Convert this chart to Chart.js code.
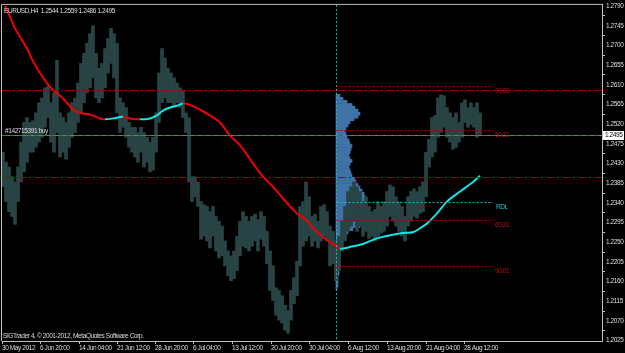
<!DOCTYPE html>
<html><head><meta charset="utf-8">
<script src="https://cdn.jsdelivr.net/npm/chart.js@4.4.1/dist/chart.umd.min.js"></script>
<style>html,body{margin:0;padding:0;background:#000;overflow:hidden}#wrap{width:625px;height:353px}</style>
</head><body><div id="wrap"><canvas id="c" width="625" height="353"></canvas></div>
<script>
// ---------- data ----------
const xTickBars = [0, 38, 77, 115, 153, 191, 230, 269, 307, 346, 385, 424, 462];
const xTickLabels = ["30 May 2012","6 Jun 20:00","14 Jun 04:00","21 Jun 12:00","28 Jun 20:00","6 Jul 04:00","13 Jul 12:00","20 Jul 20:00","30 Jul 04:00","6 Aug 12:00","13 Aug 20:00","21 Aug 04:00","28 Aug 12:00"];
const yTicks = [1.2025,1.2070,1.2115,1.2160,1.2205,1.2250,1.2295,1.2340,1.2385,1.2430,1.2475,1.2520,1.2565,1.2610,1.2655,1.2700,1.2745,1.2790];

const firstBar = 1, barsPerSample = 3;
const highs = [1.2456,1.2433,1.2422,1.2400,1.2388,1.2422,1.2479,1.2524,1.2535,1.2524,
1.2528,1.2546,1.2569,1.2580,1.2603,1.2607,1.2569,1.2592,1.2666,1.2546,
1.2535,1.2524,1.2546,1.2569,1.2580,1.2614,1.2659,1.2682,1.2705,1.2727,
1.2745,1.2682,1.2648,1.2659,1.2693,1.2716,1.2739,1.2727,1.2705,1.2580,
1.2569,1.2558,1.2524,1.2513,1.2513,1.2501,1.2513,1.2501,1.2490,1.2479,
1.2490,1.2546,1.2637,1.2693,1.2671,1.2648,1.2637,1.2626,1.2614,1.2603,
1.2596,1.2546,1.2535,1.2400,1.2400,1.2388,1.2343,1.2336,1.2332,1.2320,
1.2332,1.2309,1.2298,1.2287,1.2253,1.2230,1.2219,1.2230,1.2264,1.2298,
1.2320,1.2309,1.2298,1.2309,1.2314,1.2302,1.2320,1.2309,1.2275,1.2230,
1.2196,1.2146,1.2140,1.2128,1.2106,1.2094,1.2140,1.2169,1.2207,1.2332,
1.2343,1.2388,1.2354,1.2309,1.2314,1.2298,1.2332,1.2336,1.2320,1.2287,
1.2275,1.2253,1.2264,1.2298,1.2332,1.2366,1.2377,1.2388,1.2377,1.2366,
1.2343,1.2354,1.2332,1.2320,1.2325,1.2343,1.2332,1.2343,1.2366,1.2381,
1.2377,1.2354,1.2343,1.2332,1.2309,1.2354,1.2366,1.2372,1.2366,1.2377,
1.2388,1.2456,1.2485,1.2535,1.2540,1.2580,1.2587,1.2585,1.2558,1.2546,
1.2535,1.2546,1.2524,1.2569,1.2576,1.2558,1.2569,1.2558,1.2569,1.2546];
const lows = [1.2377,1.2343,1.2320,1.2309,1.2291,1.2343,1.2388,1.2411,1.2433,1.2456,
1.2456,1.2467,1.2479,1.2490,1.2513,1.2535,1.2479,1.2456,1.2501,1.2445,
1.2456,1.2440,1.2467,1.2490,1.2501,1.2524,1.2546,1.2569,1.2592,1.2603,
1.2626,1.2580,1.2569,1.2580,1.2603,1.2637,1.2659,1.2626,1.2546,1.2501,
1.2513,1.2490,1.2467,1.2456,1.2445,1.2433,1.2456,1.2422,1.2433,1.2411,
1.2415,1.2456,1.2524,1.2569,1.2580,1.2569,1.2569,1.2558,1.2569,1.2558,
1.2535,1.2501,1.2388,1.2343,1.2354,1.2332,1.2257,1.2264,1.2253,1.2237,
1.2264,1.2230,1.2214,1.2219,1.2196,1.2174,1.2162,1.2167,1.2185,1.2219,
1.2241,1.2237,1.2230,1.2241,1.2253,1.2230,1.2257,1.2241,1.2201,1.2140,
1.2117,1.2083,1.2072,1.2065,1.2049,1.2042,1.2072,1.2110,1.2128,1.2196,
1.2241,1.2253,1.2264,1.2241,1.2253,1.2237,1.2253,1.2264,1.2253,1.2196,
1.2201,1.2162,1.2185,1.2230,1.2253,1.2275,1.2287,1.2298,1.2275,1.2287,
1.2264,1.2275,1.2259,1.2264,1.2253,1.2264,1.2271,1.2275,1.2287,1.2309,
1.2298,1.2287,1.2275,1.2264,1.2253,1.2287,1.2298,1.2309,1.2305,1.2316,
1.2320,1.2354,1.2422,1.2445,1.2456,1.2490,1.2501,1.2513,1.2490,1.2479,
1.2463,1.2467,1.2479,1.2490,1.2524,1.2513,1.2519,1.2513,1.2490,1.2497];

const maBars = [3,8,13,18,25,31,38,45,51,58,65,71,78,88,98,103,111,121,128,138,148,155,161,168,175,181,188,198,208,218,228,238,248,261,271,281,295,305,311,318,326,335,338,351,361,375,388,401,411,418,425,435,445,458,471,478];
const maValues = [1.2790,1.2766,1.2739,1.2720,1.2693,1.2664,1.2637,1.2614,1.2598,1.2585,1.2569,1.2553,1.2546,1.2542,1.2533,1.2531,1.2533,1.2537,1.2533,1.2531,1.2533,1.2540,1.2551,1.2558,1.2562,1.2567,1.2564,1.2553,1.2540,1.2524,1.2494,1.2472,1.2440,1.2400,1.2377,1.2350,1.2316,1.2300,1.2282,1.2268,1.2253,1.2241,1.2235,1.2241,1.2246,1.2259,1.2266,1.2271,1.2273,1.2282,1.2293,1.2316,1.2343,1.2366,1.2388,1.2402];

const profileStartBar = 334;
const profileLevels = [1.2585,1.2578,1.2571,1.2564,1.2558,1.2551,1.2544,1.2537,1.2531,1.2524,1.2517,1.2510,1.2503,1.2497,1.2490,1.2483,1.2476,1.2470,1.2463,1.2456,1.2449,1.2442,1.2436,1.2429,1.2422,1.2415,1.2409,1.2402,1.2395,1.2388,1.2381,1.2375,1.2368,1.2361,1.2354,1.2347,1.2341,1.2334,1.2327,1.2320,1.2314,1.2307,1.2300,1.2293,1.2287,1.2280,1.2273,1.2266,1.2259,1.2253,1.2246,1.2239,1.2232,1.2225,1.2219,1.2212,1.2205,1.2198,1.2191,1.2185,1.2178,1.2171,1.2164,1.2158,1.2151,1.2144];
const profileVolume = [4,7,11,16,19,22,24,22,18,14,12,10,9,10,11,13,14,16,15,14,13,14,16,14,13,14,15,16,19,20,22,24,26,28,29,29,24,17,14,18,24,28,30,29,24,17,12,10,9,7,6,6,5,4,4,3,3,4,4,3,3,2,2,2,2,1];

const dashDotLevels = [1.2598, 1.2400];
const lastClose = 1.2495;
const orderPrice = 1.2495;
const orderLabel = "#142715391 buy";
const fibLevels = [1.2607, 1.2506, 1.2300, 1.2196];
const fibLabels = ["90.08", "60.31", "60.31", "90.01"];
const rdlLevel = 1.2343;
const fibEndBar = 491;
const titleText = "EURUSD,H4  1.2544 1.2559 1.2486 1.2495";
const footerText = "SIGTrader 4, \u00A9 2001-2012, MetaQuotes Software Corp.";

// ---------- styles ----------
const FONT = '"Liberation Sans", Arial, sans-serif';
const FS = 6.5;
const SPACING = '-0.4px';
const RED = '#f00000', CYAN = '#12e4e4', FG = '#dcdcdc', DRED = '#a80000';
Chart.defaults.font.family = FONT;
Chart.defaults.font.size = FS;
Chart.defaults.color = FG;

const overlay = {
  id: 'mtOverlay',
  beforeUpdate(chart) { chart.ctx.letterSpacing = SPACING; },
  beforeDraw(chart) {
    const c = chart.ctx;
    c.letterSpacing = SPACING;
    c.save(); c.fillStyle = '#000'; c.fillRect(0, 0, chart.width, chart.height); c.restore();
  },
  afterDatasetsDraw(chart) {
    const c = chart.ctx, xs = chart.scales.x, ys = chart.scales.y, a = chart.chartArea;
    const hy = v => Math.round(ys.getPixelForValue(v)) + 0.5;
    c.save();
    c.lineWidth = 1;
    // full-width dash-dot levels
    c.strokeStyle = DRED; c.setLineDash([8, 3, 2, 3]);
    dashDotLevels.forEach(v => { const y = hy(v); c.beginPath(); c.moveTo(a.left, y); c.lineTo(a.right, y); c.stroke(); });
    // bid line
    c.setLineDash([]); c.strokeStyle = '#7a7a7a';
    let y = hy(lastClose); c.beginPath(); c.moveTo(a.left, y); c.lineTo(a.right, y); c.stroke();
    // order line
    c.strokeStyle = '#2a8a2a'; c.setLineDash([5, 3]);
    y = hy(orderPrice); c.beginPath(); c.moveTo(a.left, y); c.lineTo(a.right, y); c.stroke();
    // vertical profile start line
    const vx = Math.round(xs.getPixelForValue(profileStartBar)) + 0.5;
    c.strokeStyle = '#1bb8c0'; c.setLineDash([2, 2]);
    c.beginPath(); c.moveTo(vx, a.top); c.lineTo(vx, a.bottom); c.stroke();
    // fib dotted levels
    const ex = xs.getPixelForValue(fibEndBar);
    c.strokeStyle = DRED; c.setLineDash([2, 2]);
    fibLevels.forEach(v => { const yy = hy(v); c.beginPath(); c.moveTo(vx, yy); c.lineTo(ex, yy); c.stroke(); });
    c.strokeStyle = '#18c0c8';
    y = hy(rdlLevel); c.beginPath(); c.moveTo(vx, y); c.lineTo(ex, y); c.stroke();
    c.setLineDash([]);
    // texts
    c.font = FS + 'px ' + FONT; c.textBaseline = 'top'; c.textAlign = 'left';
    c.fillStyle = '#b81414';
    fibLevels.forEach((v, i) => c.fillText(fibLabels[i], ex + 2, hy(v) + 1));
    c.fillStyle = '#18c8cc';
    c.fillText('RDL', ex + 3, hy(rdlLevel) + 1);
    c.fillStyle = FG;
    c.textBaseline = 'bottom';
    c.fillText(orderLabel, a.left + 3, hy(orderPrice) - 1);
    c.textBaseline = 'middle';
    c.fillText(titleText, a.left + 2, a.top + 6);
    c.fillText(footerText, a.left + 1, a.bottom - 5);
    c.restore();
  },
  afterDraw(chart) {
    const c = chart.ctx, a = chart.chartArea, ys = chart.scales.y;
    c.save();
    c.strokeStyle = '#c0c0c0'; c.lineWidth = 1;
    c.beginPath(); c.moveTo(a.left - 0.5, a.bottom); c.lineTo(a.left - 0.5, a.top - 0.5); c.lineTo(a.right, a.top - 0.5); c.stroke();
    // last price box
    const y = Math.round(ys.getPixelForValue(lastClose));
    c.fillStyle = '#ffffff'; c.fillRect(a.right + 1, y - 4, 21, 9);
    c.fillStyle = '#000000'; c.font = FS + 'px ' + FONT; c.textBaseline = 'middle'; c.textAlign = 'left';
    c.fillText(lastClose.toFixed(4), a.right + 3, y + 0.5);
    c.restore();
  }
};

const barNo = highs.map((_, i) => firstBar + i * barsPerSample);

new Chart(document.getElementById('c'), {
  type: 'bar',
  data: {
    datasets: [
      { type: 'line', label: 'MA', order: 0,
        data: maBars.map((b, i) => ({ x: b, y: maValues[i] })),
        borderColor: RED, borderWidth: 2, pointRadius: 0, tension: 0.3,
        segment: { borderColor: s => s.p1.parsed.y > s.p0.parsed.y ? CYAN : RED } },
      { type: 'bar', label: 'EURUSD,H4', order: 1, grouped: false,
        data: barNo.map((b, i) => ({ x: b, y: [lows[i], highs[i]] })),
        backgroundColor: '#294444', barThickness: 3 },
      { type: 'bar', label: 'Volume profile', order: 2, grouped: false, indexAxis: 'y',
        data: profileLevels.map((p, i) => ({ y: p, x: [profileStartBar, profileStartBar + profileVolume[i]] })),
        backgroundColor: '#3f72a6', barThickness: 3 }
    ]
  },
  options: {
    responsive: false, animation: false,
    layout: { padding: { left: 2, top: 1, right: 0, bottom: 0 } },
    plugins: { legend: { display: false }, tooltip: { enabled: false }, title: { display: false } },
    scales: {
      x: { type: 'linear', position: 'bottom', min: 0, max: 600, offset: false,
        grid: { drawOnChartArea: false, drawTicks: true, tickLength: 3, color: '#c0c0c0', tickColor: '#c0c0c0', offset: false },
        border: { display: true, color: '#c0c0c0', width: 1 },
        afterBuildTicks: s => { s.ticks = xTickBars.map(v => ({ value: v })); },
        afterFit: s => { s.height = 12; },
        ticks: { autoSkip: false, maxRotation: 0, minRotation: 0, align: 'start', padding: 0, color: FG,
          font: { size: FS, family: FONT }, callback: (v, i) => xTickLabels[i] } },
      y: { type: 'linear', position: 'right', min: 1.20243, max: 1.27927, beginAtZero: false, offset: false,
        grid: { drawOnChartArea: false, drawTicks: true, tickLength: 3, color: '#c0c0c0', tickColor: '#c0c0c0' },
        border: { display: true, color: '#c0c0c0', width: 1 },
        afterBuildTicks: s => { s.ticks = yTicks.map(v => ({ value: v })); },
        afterFit: s => { s.width = 23; },
        ticks: { autoSkip: false, padding: 1, color: FG, font: { size: FS, family: FONT },
          callback: v => Number(v).toFixed(4) } }
    }
  },
  plugins: [overlay]
});
</script>
</body></html>
